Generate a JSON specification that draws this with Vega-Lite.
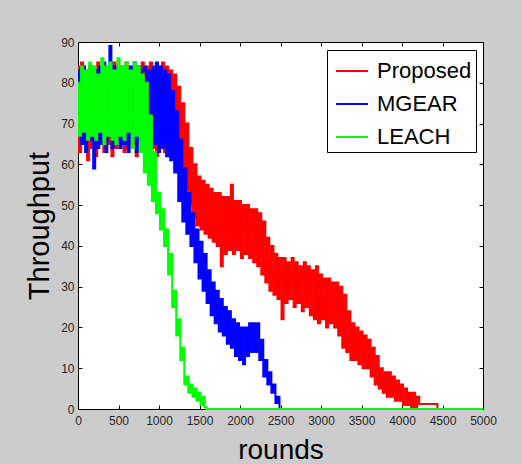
{
"$schema":"https://vega.github.io/schema/vega-lite/v6.json",
"width":405,"height":367,
"autosize":{"type":"none"},
"padding":{"left":78,"top":42,"right":39,"bottom":55},
"background":"#cccccc",
"config":{
"view":{"fill":"white","stroke":"black","strokeWidth":1},
"axis":{"grid":false,"domain":false,"tickSize":4,"offset":-4,"labelFlush":false,"labelOverlap":false,"tickColor":"#000000","labelFont":"Liberation Sans","labelFontSize":12,"labelColor":"#262626","titleFont":"Liberation Sans","titleFontWeight":"normal","titleColor":"#000000"},
"line":{"strokeWidth":2,"interpolate":"step"}
},
"data":{"values":[
{"r":0,"Proposed":84,"MGEAR":67,"LEACH":80},
{"r":25,"Proposed":63,"MGEAR":83,"LEACH":67},
{"r":50,"Proposed":85,"MGEAR":65,"LEACH":84},
{"r":75,"Proposed":65,"MGEAR":84,"LEACH":68},
{"r":100,"Proposed":83,"MGEAR":63,"LEACH":83},
{"r":125,"Proposed":61,"MGEAR":82,"LEACH":66},
{"r":150,"Proposed":84,"MGEAR":66,"LEACH":85},
{"r":175,"Proposed":64,"MGEAR":84,"LEACH":67},
{"r":200,"Proposed":82,"MGEAR":59,"LEACH":84},
{"r":225,"Proposed":62,"MGEAR":83,"LEACH":66},
{"r":250,"Proposed":85,"MGEAR":64,"LEACH":82},
{"r":275,"Proposed":66,"MGEAR":84,"LEACH":68},
{"r":300,"Proposed":83,"MGEAR":65,"LEACH":86},
{"r":325,"Proposed":63,"MGEAR":85,"LEACH":65},
{"r":350,"Proposed":84,"MGEAR":63,"LEACH":84},
{"r":375,"Proposed":65,"MGEAR":82,"LEACH":67},
{"r":400,"Proposed":83,"MGEAR":89,"LEACH":85},
{"r":425,"Proposed":62,"MGEAR":64,"LEACH":66},
{"r":450,"Proposed":85,"MGEAR":84,"LEACH":83},
{"r":475,"Proposed":64,"MGEAR":66,"LEACH":65},
{"r":500,"Proposed":84,"MGEAR":83,"LEACH":86},
{"r":525,"Proposed":66,"MGEAR":64,"LEACH":67},
{"r":550,"Proposed":83,"MGEAR":84,"LEACH":84},
{"r":575,"Proposed":63,"MGEAR":65,"LEACH":66},
{"r":600,"Proposed":85,"MGEAR":83,"LEACH":85},
{"r":625,"Proposed":64,"MGEAR":63,"LEACH":68},
{"r":650,"Proposed":82,"MGEAR":84,"LEACH":83},
{"r":675,"Proposed":65,"MGEAR":66,"LEACH":64},
{"r":700,"Proposed":84,"MGEAR":85,"LEACH":85},
{"r":725,"Proposed":62,"MGEAR":63,"LEACH":67},
{"r":750,"Proposed":83,"MGEAR":84,"LEACH":84},
{"r":775,"Proposed":65,"MGEAR":65,"LEACH":63},
{"r":800,"Proposed":85,"MGEAR":83,"LEACH":82},
{"r":825,"Proposed":63,"MGEAR":84,"LEACH":58},
{"r":850,"Proposed":84,"MGEAR":64,"LEACH":80},
{"r":875,"Proposed":65,"MGEAR":83,"LEACH":55},
{"r":900,"Proposed":85,"MGEAR":63,"LEACH":72},
{"r":925,"Proposed":64,"MGEAR":84,"LEACH":51},
{"r":950,"Proposed":83,"MGEAR":65,"LEACH":63},
{"r":975,"Proposed":62,"MGEAR":85,"LEACH":48},
{"r":1000,"Proposed":84,"MGEAR":63,"LEACH":53},
{"r":1025,"Proposed":65,"MGEAR":84,"LEACH":44},
{"r":1050,"Proposed":85,"MGEAR":64,"LEACH":49},
{"r":1075,"Proposed":63,"MGEAR":83,"LEACH":40},
{"r":1100,"Proposed":84,"MGEAR":62,"LEACH":44},
{"r":1125,"Proposed":64,"MGEAR":82,"LEACH":33},
{"r":1150,"Proposed":83,"MGEAR":61,"LEACH":38},
{"r":1175,"Proposed":63,"MGEAR":78,"LEACH":25},
{"r":1200,"Proposed":82,"MGEAR":58,"LEACH":29},
{"r":1225,"Proposed":61,"MGEAR":73,"LEACH":18},
{"r":1250,"Proposed":79,"MGEAR":51,"LEACH":22},
{"r":1275,"Proposed":58,"MGEAR":66,"LEACH":12},
{"r":1300,"Proposed":75,"MGEAR":46,"LEACH":15},
{"r":1325,"Proposed":54,"MGEAR":59,"LEACH":6},
{"r":1350,"Proposed":70,"MGEAR":43,"LEACH":8},
{"r":1375,"Proposed":50,"MGEAR":53,"LEACH":4},
{"r":1400,"Proposed":64,"MGEAR":40,"LEACH":6},
{"r":1425,"Proposed":47,"MGEAR":48,"LEACH":3},
{"r":1450,"Proposed":60,"MGEAR":36,"LEACH":5},
{"r":1475,"Proposed":45,"MGEAR":44,"LEACH":2},
{"r":1500,"Proposed":57,"MGEAR":32,"LEACH":4},
{"r":1525,"Proposed":44,"MGEAR":41,"LEACH":1},
{"r":1550,"Proposed":56,"MGEAR":29,"LEACH":3},
{"r":1575,"Proposed":43,"MGEAR":38,"LEACH":0.5},
{"r":1600,"Proposed":55,"MGEAR":26,"LEACH":0},
{"r":1625,"Proposed":42,"MGEAR":34,"LEACH":0},
{"r":1650,"Proposed":54,"MGEAR":23,"LEACH":0},
{"r":1675,"Proposed":41,"MGEAR":31,"LEACH":0},
{"r":1700,"Proposed":53,"MGEAR":21,"LEACH":0},
{"r":1725,"Proposed":40,"MGEAR":29,"LEACH":0},
{"r":1750,"Proposed":53,"MGEAR":19,"LEACH":0},
{"r":1775,"Proposed":35,"MGEAR":27,"LEACH":0},
{"r":1800,"Proposed":52,"MGEAR":18,"LEACH":0},
{"r":1825,"Proposed":38,"MGEAR":25,"LEACH":0},
{"r":1850,"Proposed":52,"MGEAR":16,"LEACH":0},
{"r":1875,"Proposed":39,"MGEAR":24,"LEACH":0},
{"r":1900,"Proposed":55,"MGEAR":15,"LEACH":0},
{"r":1925,"Proposed":38,"MGEAR":22,"LEACH":0},
{"r":1950,"Proposed":51,"MGEAR":13,"LEACH":0},
{"r":1975,"Proposed":39,"MGEAR":21,"LEACH":0},
{"r":2000,"Proposed":51,"MGEAR":12,"LEACH":0},
{"r":2025,"Proposed":37,"MGEAR":20,"LEACH":0},
{"r":2050,"Proposed":50,"MGEAR":11,"LEACH":0},
{"r":2075,"Proposed":38,"MGEAR":20,"LEACH":0},
{"r":2100,"Proposed":50,"MGEAR":13,"LEACH":0},
{"r":2125,"Proposed":37,"MGEAR":21,"LEACH":0},
{"r":2150,"Proposed":49,"MGEAR":14,"LEACH":0},
{"r":2175,"Proposed":36,"MGEAR":21,"LEACH":0},
{"r":2200,"Proposed":49,"MGEAR":14,"LEACH":0},
{"r":2225,"Proposed":35,"MGEAR":21,"LEACH":0},
{"r":2250,"Proposed":48,"MGEAR":12,"LEACH":0},
{"r":2275,"Proposed":33,"MGEAR":17,"LEACH":0},
{"r":2300,"Proposed":46,"MGEAR":8,"LEACH":0},
{"r":2325,"Proposed":31,"MGEAR":12,"LEACH":0},
{"r":2350,"Proposed":42,"MGEAR":6,"LEACH":0},
{"r":2375,"Proposed":29,"MGEAR":9,"LEACH":0},
{"r":2400,"Proposed":40,"MGEAR":4,"LEACH":0},
{"r":2425,"Proposed":28,"MGEAR":6,"LEACH":0},
{"r":2450,"Proposed":38,"MGEAR":1.5,"LEACH":0},
{"r":2475,"Proposed":27,"MGEAR":3,"LEACH":0},
{"r":2500,"Proposed":37,"MGEAR":0,"LEACH":0},
{"r":2525,"Proposed":22,"MGEAR":0,"LEACH":0},
{"r":2550,"Proposed":37,"MGEAR":0,"LEACH":0},
{"r":2575,"Proposed":26,"MGEAR":0,"LEACH":0},
{"r":2600,"Proposed":36,"MGEAR":0,"LEACH":0},
{"r":2625,"Proposed":27,"MGEAR":0,"LEACH":0},
{"r":2650,"Proposed":37,"MGEAR":0,"LEACH":0},
{"r":2675,"Proposed":25,"MGEAR":0,"LEACH":0},
{"r":2700,"Proposed":36,"MGEAR":0,"LEACH":0},
{"r":2725,"Proposed":26,"MGEAR":0,"LEACH":0},
{"r":2750,"Proposed":35,"MGEAR":0,"LEACH":0},
{"r":2775,"Proposed":24,"MGEAR":0,"LEACH":0},
{"r":2800,"Proposed":36,"MGEAR":0,"LEACH":0},
{"r":2825,"Proposed":25,"MGEAR":0,"LEACH":0},
{"r":2850,"Proposed":35,"MGEAR":0,"LEACH":0},
{"r":2875,"Proposed":23,"MGEAR":0,"LEACH":0},
{"r":2900,"Proposed":34,"MGEAR":0,"LEACH":0},
{"r":2925,"Proposed":22,"MGEAR":0,"LEACH":0},
{"r":2950,"Proposed":35,"MGEAR":0,"LEACH":0},
{"r":2975,"Proposed":21,"MGEAR":0,"LEACH":0},
{"r":3000,"Proposed":33,"MGEAR":0,"LEACH":0},
{"r":3025,"Proposed":22,"MGEAR":0,"LEACH":0},
{"r":3050,"Proposed":32,"MGEAR":0,"LEACH":0},
{"r":3075,"Proposed":20,"MGEAR":0,"LEACH":0},
{"r":3100,"Proposed":32,"MGEAR":0,"LEACH":0},
{"r":3125,"Proposed":21,"MGEAR":0,"LEACH":0},
{"r":3150,"Proposed":31,"MGEAR":0,"LEACH":0},
{"r":3175,"Proposed":20,"MGEAR":0,"LEACH":0},
{"r":3200,"Proposed":31,"MGEAR":0,"LEACH":0},
{"r":3225,"Proposed":18,"MGEAR":0,"LEACH":0},
{"r":3250,"Proposed":30,"MGEAR":0,"LEACH":0},
{"r":3275,"Proposed":15,"MGEAR":0,"LEACH":0},
{"r":3300,"Proposed":28,"MGEAR":0,"LEACH":0},
{"r":3325,"Proposed":14,"MGEAR":0,"LEACH":0},
{"r":3350,"Proposed":24,"MGEAR":0,"LEACH":0},
{"r":3375,"Proposed":12,"MGEAR":0,"LEACH":0},
{"r":3400,"Proposed":21,"MGEAR":0,"LEACH":0},
{"r":3425,"Proposed":12,"MGEAR":0,"LEACH":0},
{"r":3450,"Proposed":20,"MGEAR":0,"LEACH":0},
{"r":3475,"Proposed":11,"MGEAR":0,"LEACH":0},
{"r":3500,"Proposed":19,"MGEAR":0,"LEACH":0},
{"r":3525,"Proposed":10,"MGEAR":0,"LEACH":0},
{"r":3550,"Proposed":18,"MGEAR":0,"LEACH":0},
{"r":3575,"Proposed":10,"MGEAR":0,"LEACH":0},
{"r":3600,"Proposed":17,"MGEAR":0,"LEACH":0},
{"r":3625,"Proposed":8,"MGEAR":0,"LEACH":0},
{"r":3650,"Proposed":15,"MGEAR":0,"LEACH":0},
{"r":3675,"Proposed":6,"MGEAR":0,"LEACH":0},
{"r":3700,"Proposed":13,"MGEAR":0,"LEACH":0},
{"r":3725,"Proposed":5,"MGEAR":0,"LEACH":0},
{"r":3750,"Proposed":10,"MGEAR":0,"LEACH":0},
{"r":3775,"Proposed":4,"MGEAR":0,"LEACH":0},
{"r":3800,"Proposed":9,"MGEAR":0,"LEACH":0},
{"r":3825,"Proposed":3,"MGEAR":0,"LEACH":0},
{"r":3850,"Proposed":9,"MGEAR":0,"LEACH":0},
{"r":3875,"Proposed":3,"MGEAR":0,"LEACH":0},
{"r":3900,"Proposed":8,"MGEAR":0,"LEACH":0},
{"r":3925,"Proposed":2,"MGEAR":0,"LEACH":0},
{"r":3950,"Proposed":7,"MGEAR":0,"LEACH":0},
{"r":3975,"Proposed":2,"MGEAR":0,"LEACH":0},
{"r":4000,"Proposed":6,"MGEAR":0,"LEACH":0},
{"r":4025,"Proposed":1,"MGEAR":0,"LEACH":0},
{"r":4050,"Proposed":5,"MGEAR":0,"LEACH":0},
{"r":4075,"Proposed":1,"MGEAR":0,"LEACH":0},
{"r":4100,"Proposed":4,"MGEAR":0,"LEACH":0},
{"r":4125,"Proposed":0,"MGEAR":0,"LEACH":0},
{"r":4150,"Proposed":4,"MGEAR":0,"LEACH":0},
{"r":4175,"Proposed":0,"MGEAR":0,"LEACH":0},
{"r":4200,"Proposed":3,"MGEAR":0,"LEACH":0},
{"r":4225,"Proposed":1.2,"MGEAR":0,"LEACH":0},
{"r":4425,"Proposed":1.2,"MGEAR":0,"LEACH":0},
{"r":4450,"Proposed":0,"MGEAR":0,"LEACH":0},
{"r":5000,"Proposed":0,"MGEAR":0,"LEACH":0}
]},
"transform":[{"fold":["Proposed","MGEAR","LEACH"],"as":["series","v"]}],
"layer":[
{"transform":[{"filter":"datum.series === 'Proposed'"}],
"mark":{"type":"line"},
"encoding":{
"x":{"field":"r","type":"quantitative","scale":{"domain":[0,5000],"nice":false},"axis":{"values":[0,500,1000,1500,2000,2500,3000,3500,4000,4500,5000],"format":"d","labelPadding":6,"title":"rounds","titleFontSize":28,"titlePadding":10}},
"y":{"field":"v","type":"quantitative","scale":{"domain":[0,90],"nice":false},"axis":{"values":[0,10,20,30,40,50,60,70,80,90],"format":"d","labelPadding":4,"title":"Throughput","titleFontSize":29,"titlePadding":6}},
"color":{"field":"series","type":"nominal","scale":{"domain":["Proposed","MGEAR","LEACH"],"range":["#ff0000","#0000ff","#00ff00"]},"legend":{"orient":"none","legendX":249,"legendY":8,"title":null,"strokeColor":"black","fillColor":"white","padding":4,"labelFont":"Liberation Sans","labelFontSize":22,"labelColor":"black","symbolType":"stroke","symbolSize":1024,"symbolStrokeWidth":2,"symbolOffset":4,"rowPadding":5,"labelOffset":8}}
}},
{"transform":[{"filter":"datum.series === 'MGEAR'"}],
"mark":{"type":"line"},
"encoding":{
"x":{"field":"r","type":"quantitative","axis":null},
"y":{"field":"v","type":"quantitative","axis":null},
"color":{"field":"series","type":"nominal"}
}},
{"transform":[{"filter":"datum.series === 'LEACH'"}],
"mark":{"type":"line"},
"encoding":{
"x":{"field":"r","type":"quantitative","axis":{"orient":"top","labels":false,"title":null,"values":[0,500,1000,1500,2000,2500,3000,3500,4000,4500,5000]}},
"y":{"field":"v","type":"quantitative","axis":{"orient":"right","labels":false,"title":null,"values":[0,10,20,30,40,50,60,70,80,90]}},
"color":{"field":"series","type":"nominal"}
}}
],
"resolve":{"axis":{"x":"independent","y":"independent"}}
}
